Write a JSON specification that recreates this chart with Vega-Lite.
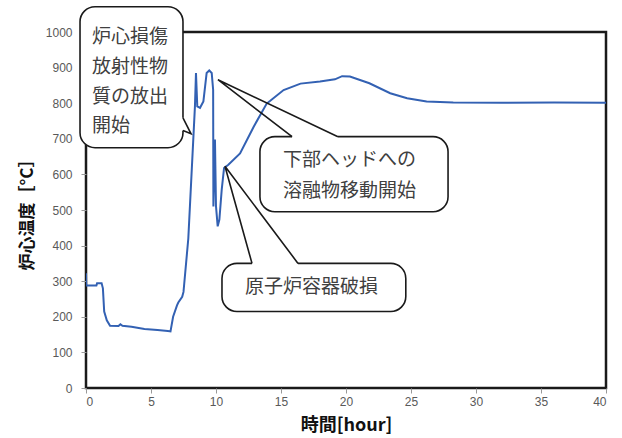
{
  "$schema": "https://vega.github.io/schema/vega-lite/v6.json",
  "width": 520,
  "height": 356,
  "autosize": {"type": "none"},
  "padding": {"left": 86, "top": 32, "right": 16, "bottom": 50},
  "background": "white",
  "config": {
    "view": {"stroke": "#1a1a1a", "strokeWidth": 2.5},
    "axis": {
      "labelFont": "Liberation Sans",
      "labelFontSize": 12,
      "labelColor": "#595959",
      "labelOverlap": false,
      "tickColor": "#999999",
      "tickSize": 5,
      "domain": false,
      "grid": false,
      "titleFont": "Noto Sans CJK JP",
      "titleFontWeight": "bold",
      "titleColor": "#111111"
    }
  },
  "datasets": {
    "temp": [
      {"t": 0, "v": 322}, {"t": 0.02, "v": 288}, {"t": 0.8, "v": 288}, {"t": 0.85, "v": 294},
      {"t": 1.2, "v": 294}, {"t": 1.3, "v": 280}, {"t": 1.4, "v": 215}, {"t": 1.6, "v": 190},
      {"t": 1.85, "v": 175}, {"t": 2.5, "v": 174}, {"t": 2.65, "v": 179}, {"t": 2.8, "v": 175},
      {"t": 3.5, "v": 172}, {"t": 4.5, "v": 166}, {"t": 5.5, "v": 163}, {"t": 6.3, "v": 160},
      {"t": 6.5, "v": 159}, {"t": 6.7, "v": 200}, {"t": 7.0, "v": 232}, {"t": 7.1, "v": 240},
      {"t": 7.4, "v": 256}, {"t": 7.5, "v": 270}, {"t": 7.87, "v": 420}, {"t": 8.38, "v": 791},
      {"t": 8.46, "v": 885}, {"t": 8.56, "v": 791}, {"t": 8.77, "v": 787}, {"t": 9.03, "v": 805},
      {"t": 9.28, "v": 885}, {"t": 9.48, "v": 892}, {"t": 9.67, "v": 885}, {"t": 9.78, "v": 838},
      {"t": 9.8, "v": 510}, {"t": 9.92, "v": 698}, {"t": 10.0, "v": 510}, {"t": 10.13, "v": 454},
      {"t": 10.26, "v": 473}, {"t": 10.44, "v": 557}, {"t": 10.62, "v": 618}, {"t": 10.95, "v": 627},
      {"t": 11.85, "v": 659}, {"t": 12.9, "v": 734}, {"t": 13.9, "v": 799}, {"t": 14.15, "v": 806},
      {"t": 15.2, "v": 837}, {"t": 16.5, "v": 855}, {"t": 18, "v": 861}, {"t": 19.15, "v": 867},
      {"t": 19.7, "v": 876}, {"t": 20.3, "v": 875}, {"t": 21.8, "v": 856}, {"t": 23.4, "v": 828},
      {"t": 24.7, "v": 814}, {"t": 26.2, "v": 805}, {"t": 28.25, "v": 802}, {"t": 32, "v": 801},
      {"t": 36, "v": 802}, {"t": 40, "v": 801}
    ],
    "boxes": [
      {"id": "a", "t1": -0.46, "t2": 7.46, "v1": 1071, "v2": 675},
      {"id": "b", "t1": 13.38, "t2": 27.85, "v1": 706, "v2": 495},
      {"id": "c", "t1": 10.46, "t2": 24.6, "v1": 350, "v2": 215}
    ],
    "gaps": [
      {"id": "a", "t1": 7.46, "t2": 7.46, "v1": 759, "v2": 723},
      {"id": "b", "t1": 15.85, "t2": 19.38, "v1": 706, "v2": 706},
      {"id": "c", "t1": 12.77, "t2": 16.31, "v1": 350, "v2": 350}
    ],
    "pointers": [
      {"id": "a", "ord": 1, "t": 7.46, "v": 759},
      {"id": "a", "ord": 2, "t": 8.08, "v": 714},
      {"id": "a", "ord": 3, "t": 7.46, "v": 723},
      {"id": "b", "ord": 1, "t": 15.85, "v": 706},
      {"id": "b", "ord": 2, "t": 10.15, "v": 866},
      {"id": "b", "ord": 3, "t": 19.38, "v": 706},
      {"id": "c", "ord": 1, "t": 12.77, "v": 350},
      {"id": "c", "ord": 2, "t": 10.69, "v": 623},
      {"id": "c", "ord": 3, "t": 16.31, "v": 350}
    ],
    "labels": [
      {"t": 0.46, "v": 987, "label": "炉心損傷"},
      {"t": 0.46, "v": 902, "label": "放射性物"},
      {"t": 0.46, "v": 818, "label": "質の放出"},
      {"t": 0.46, "v": 737, "label": "開始"},
      {"t": 15.15, "v": 641, "label": "下部ヘッドへの"},
      {"t": 15.15, "v": 552, "label": "溶融物移動開始"},
      {"t": 12.23, "v": 285, "label": "原子炉容器破損"}
    ]
  },
  "layer": [
    {
      "data": {"name": "temp"},
      "mark": {"type": "line", "color": "#3361b3", "strokeWidth": 2, "clip": true},
      "encoding": {
        "x": {"field": "t", "type": "quantitative", "title": "時間[hour]",
              "scale": {"domain": [0, 40], "nice": false},
              "axis": {"values": [0, 5, 10, 15, 20, 25, 30, 35, 40], "tickCount": 20, "format": "d", "labelPadding": 3, "titlePadding": 9, "titleFontSize": 18}},
        "y": {"field": "v", "type": "quantitative", "title": "炉心温度［°C］",
              "scale": {"domain": [0, 1000], "nice": false},
              "axis": {"values": [0, 100, 200, 300, 400, 500, 600, 700, 800, 900, 1000], "tickCount": 20, "format": "d", "labelPadding": 9, "titlePadding": 9, "titleFontSize": 17}}
      }
    },
    {
      "data": {"name": "boxes"},
      "mark": {"type": "rect", "fill": "white", "stroke": "#1a1a1a", "strokeWidth": 1.6, "cornerRadius": 15, "clip": false},
      "encoding": {
        "x": {"field": "t1", "type": "quantitative", "title": "時間[hour]"},
        "x2": {"field": "t2"},
        "y": {"field": "v1", "type": "quantitative", "title": "炉心温度［°C］"},
        "y2": {"field": "v2"}
      }
    },
    {
      "data": {"name": "gaps"},
      "mark": {"type": "rule", "color": "white", "strokeWidth": 3.5, "clip": false},
      "encoding": {
        "x": {"field": "t1", "type": "quantitative", "title": "時間[hour]"},
        "x2": {"field": "t2"},
        "y": {"field": "v1", "type": "quantitative", "title": "炉心温度［°C］"},
        "y2": {"field": "v2"}
      }
    },
    {
      "data": {"name": "pointers"},
      "mark": {"type": "line", "color": "#1a1a1a", "strokeWidth": 1.6, "clip": false, "strokeJoin": "miter"},
      "encoding": {
        "x": {"field": "t", "type": "quantitative", "title": "時間[hour]"},
        "y": {"field": "v", "type": "quantitative", "title": "炉心温度［°C］"},
        "detail": {"field": "id"},
        "order": {"field": "ord"}
      }
    },
    {
      "data": {"name": "labels"},
      "mark": {"type": "text", "align": "left", "baseline": "middle", "font": "Noto Sans CJK JP", "fontSize": 19, "color": "#404040", "clip": false},
      "encoding": {
        "x": {"field": "t", "type": "quantitative", "title": "時間[hour]"},
        "y": {"field": "v", "type": "quantitative", "title": "炉心温度［°C］"},
        "text": {"field": "label"}
      }
    }
  ]
}
